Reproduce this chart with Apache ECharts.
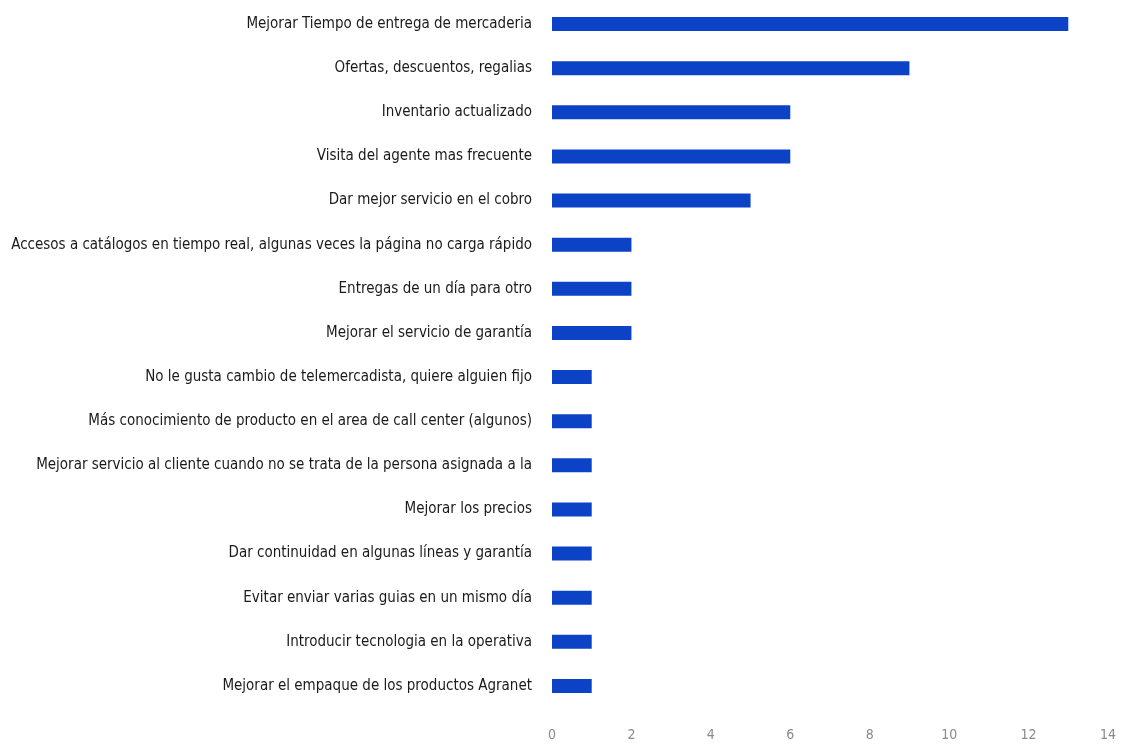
<!DOCTYPE html>
<html>
<head>
<meta charset="utf-8">
<script src="https://cdn.jsdelivr.net/npm/echarts@6/dist/echarts.min.js"></script>
<style>
  html, body { margin: 0; padding: 0; background: #ffffff; }
  #chart { width: 1124px; height: 748px; }
</style>
</head>
<body>
<div id="chart"></div>
<script>
// Suggestions from customers, listed top to bottom
const categories = [
  "Mejorar Tiempo de entrega de mercaderia",
  "Ofertas, descuentos, regalias",
  "Inventario actualizado",
  "Visita del agente mas frecuente",
  "Dar mejor servicio en el cobro",
  "Accesos a catálogos en tiempo real, algunas veces la página no carga rápido",
  "Entregas de un día para otro",
  "Mejorar el servicio de garantía",
  "No le gusta cambio de telemercadista, quiere alguien fijo",
  "Más conocimiento de producto en el area de call center (algunos)",
  "Mejorar servicio al cliente cuando no se trata de la persona asignada a la",
  "Mejorar los precios",
  "Dar continuidad en algunas líneas y garantía",
  "Evitar enviar varias guias en un mismo día",
  "Introducir tecnologia en la operativa",
  "Mejorar el empaque de los productos Agranet"
];
// Number of mentions for each suggestion
const counts = [13, 9, 6, 6, 5, 2, 2, 2, 1, 1, 1, 1, 1, 1, 1, 1];
const xTicks = [0, 2, 4, 6, 8, 10, 12, 14];

const chart = echarts.init(document.getElementById('chart'));
chart.setOption({
  backgroundColor: '#ffffff',
  animation: false,
  grid: { left: 552, right: 16, top: 2, bottom: 40, containLabel: false },
  xAxis: {
    type: 'value',
    min: xTicks[0],
    max: xTicks[xTicks.length - 1],
    interval: 2,
    axisLine: { show: false },
    axisTick: { show: false },
    splitLine: { show: false },
    axisLabel: {
      color: '#8a8a8a',
      fontSize: 14,
      fontFamily: 'Liberation Sans Narrow, DejaVu Sans Condensed, sans-serif',
      margin: 20
    }
  },
  yAxis: {
    type: 'category',
    data: categories,
    inverse: true,
    axisLine: { show: false },
    axisTick: { show: false },
    splitLine: { show: false },
    axisLabel: {
      color: '#1a1a1a',
      fontSize: 15,
      fontFamily: 'Liberation Sans Narrow, DejaVu Sans Condensed, sans-serif',
      margin: 20
    }
  },
  series: [{
    type: 'bar',
    data: counts,
    barWidth: 14,
    itemStyle: { color: '#0b42c6' }
  }]
});
</script>
</body>
</html>
